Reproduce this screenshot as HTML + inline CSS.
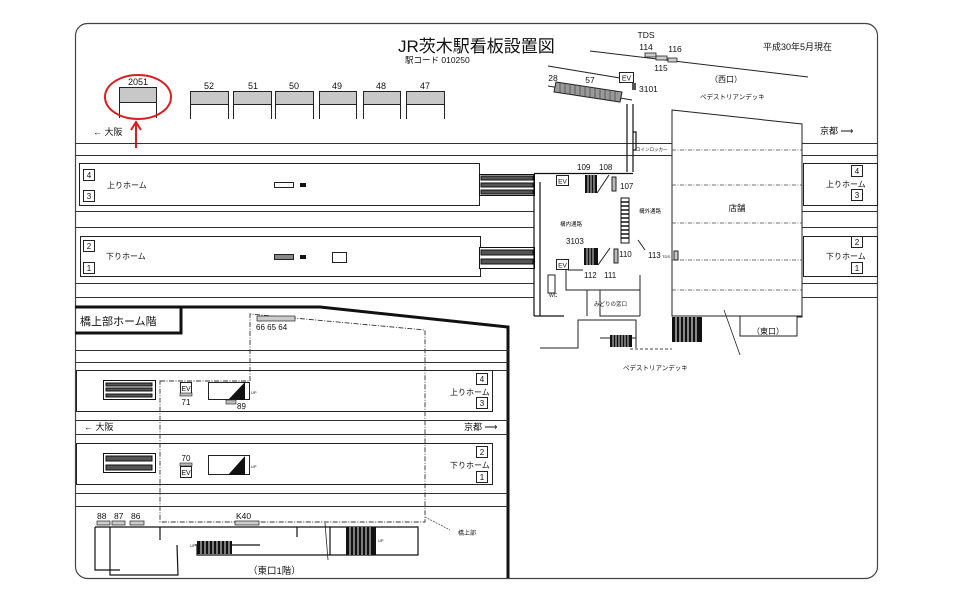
<!DOCTYPE html>
<html><head><meta charset="utf-8"><style>
html,body{margin:0;padding:0;background:#fff;}
svg{display:block;}
text{font-family:"Liberation Sans","Noto Sans CJK JP",sans-serif;fill:#111;}
</style></head><body>
<svg width="960" height="605" viewBox="0 0 960 605" xmlns="http://www.w3.org/2000/svg">
<rect x="0" y="0" width="960" height="605" fill="#fff"/>
<rect x="75.5" y="23.5" width="802" height="555" rx="12" fill="none" stroke="#444" stroke-width="1.2"/>

<!-- title -->
<text x="398" y="52" font-size="17">JR茨木駅看板設置図</text>
<text x="405" y="63" font-size="8.5">駅コード 010250</text>
<text x="763" y="50" font-size="9">平成30年5月現在</text>

<!-- top signs -->
<g stroke="#222" stroke-width="1" fill="#c8c8c8">
<rect x="119.5" y="87.5" width="37" height="15"/>
<rect x="190.5" y="91.5" width="38" height="13"/>
<rect x="233.5" y="91.5" width="38" height="13"/>
<rect x="275.5" y="91.5" width="38" height="13"/>
<rect x="319.5" y="91.5" width="37" height="13"/>
<rect x="363.5" y="91.5" width="37" height="13"/>
<rect x="406.5" y="91.5" width="38" height="13"/>
</g>
<g stroke="#222" stroke-width="1">
<path d="M119.5 102v16M156.5 102v16M190.5 104v15M228.5 104v15M233.5 104v15M271.5 104v15M275.5 104v15M313.5 104v15M319.5 104v15M356.5 104v15M363.5 104v15M400.5 104v15M406.5 104v15M444.5 104v15"/>
</g>
<g font-size="9" text-anchor="middle">
<text x="138" y="85">2051</text><text x="209" y="89">52</text><text x="253" y="89">51</text><text x="294" y="89">50</text><text x="337" y="89">49</text><text x="381" y="89">48</text><text x="425" y="89">47</text>
</g>
<ellipse cx="138" cy="97" rx="33" ry="22" fill="none" stroke="#d62020" stroke-width="2"/>
<path d="M136 148V124" stroke="#d62020" stroke-width="2"/>
<path d="M131 130L136 122L141 130" fill="none" stroke="#d62020" stroke-width="2"/>
<text x="93" y="135" font-size="9">←  大阪</text>
<text x="820" y="134" font-size="9">京都 ⟶</text>

<!-- top rails -->
<g stroke="#333" stroke-width="1">
<path d="M76 143.5H672M802 143.5H878M76 155.5H672M802 155.5H878"/>
<path d="M76 211.5H534M802 211.5H878M76 227.5H534M802 227.5H878"/>
<path d="M76 283.5H534M802 283.5H878M76 297.5H534M802 297.5H878"/>
</g>
<!-- top platforms -->
<g fill="none" stroke="#222" stroke-width="1">
<rect x="79.5" y="163.5" width="400" height="42"/>
<rect x="80.5" y="236.5" width="400" height="40"/>
<rect x="803.5" y="163.5" width="74" height="42"/>
<rect x="803.5" y="236.5" width="74" height="40"/>
<rect x="83.5" y="169.5" width="11" height="11"/><rect x="83.5" y="190.5" width="11" height="11"/>
<rect x="83.5" y="240.5" width="11" height="11"/><rect x="83.5" y="262.5" width="11" height="11"/>
<rect x="851.5" y="165.5" width="11" height="11"/><rect x="851.5" y="189.5" width="11" height="11"/>
<rect x="851.5" y="236.5" width="11" height="11"/><rect x="851.5" y="262.5" width="11" height="11"/>
<rect x="274.5" y="182.5" width="19" height="5"/><rect x="274.5" y="254.5" width="19" height="5" fill="#888"/>
<rect x="332.5" y="252.5" width="14" height="10"/>
</g>
<rect x="300" y="183" width="6" height="4" fill="#111"/><rect x="300" y="255" width="6" height="4" fill="#111"/>
<g font-size="8" text-anchor="middle">
<text x="89" y="178">4</text><text x="89" y="199">3</text><text x="89" y="249">2</text><text x="89" y="271">1</text>
<text x="857" y="174">4</text><text x="857" y="198">3</text><text x="857" y="245">2</text><text x="857" y="271">1</text>
</g>
<text x="107" y="188" font-size="8">上りホーム</text>
<text x="106" y="259" font-size="8">下りホーム</text>
<text x="826" y="187" font-size="8">上りホーム</text>
<text x="826" y="259" font-size="8">下りホーム</text>

<!-- escalators top -->
<g stroke="#111" stroke-width="1">
<rect x="479.5" y="174.5" width="55" height="21" fill="#fff"/>
<rect x="481" y="176" width="52" height="4" fill="#555"/><rect x="481" y="183" width="52" height="4" fill="#555"/><rect x="481" y="190" width="52" height="4" fill="#555"/>
<rect x="479.5" y="247.5" width="55" height="21" fill="#fff"/>
<rect x="481" y="250" width="52" height="5" fill="#555"/><rect x="481" y="259" width="52" height="5" fill="#555"/>
</g>

<!-- west side -->
<path d="M590 51L808 77" stroke="#222" stroke-width="1"/>
<path d="M548 66L632 80" stroke="#222" stroke-width="1"/>
<path d="M548 86L632 100" stroke="#222" stroke-width="1"/>
<text x="646" y="38" font-size="8.5" text-anchor="middle">TDS</text>
<text x="646" y="50" font-size="8.5" text-anchor="middle">114</text>
<text x="675" y="52" font-size="8.5" text-anchor="middle">116</text>
<text x="661" y="71" font-size="8.5" text-anchor="middle">115</text>
<g fill="#ccc" stroke="#222" stroke-width="0.8"><rect x="645" y="53" width="11" height="4"/><rect x="656" y="56" width="11" height="4"/><rect x="668" y="58" width="9" height="4"/></g>
<path d="M556 82L622 92L620 102L554 92Z" fill="#999" stroke="#222" stroke-width="1"/>
<g stroke="#333" stroke-width="0.6"><path d="M560 83v10M565 84v10M570 85v10M575 85v10M580 86v10M585 87v10M590 88v10M595 88v10M600 89v10M605 90v10M610 91v10M615 91v10"/></g>
<text x="553" y="81" font-size="8.5" text-anchor="middle">28</text>
<text x="590" y="83" font-size="8.5" text-anchor="middle">57</text>
<rect x="619.5" y="72.5" width="14" height="10" fill="#fff" stroke="#222"/><text x="626.5" y="80.5" font-size="7" text-anchor="middle">EV</text>
<rect x="632" y="83" width="4" height="7" fill="#555"/>
<text x="639" y="92" font-size="8.5">3101</text>
<text x="710" y="82" font-size="8">（西口）</text>
<text x="700" y="99" font-size="6.5">ペデストリアンデッキ</text>

<!-- vertical passage -->
<g stroke="#111" stroke-width="1.2" fill="none">
<path d="M627 104V172M633 104V172M633 132h3v18h-3"/>
<path d="M534 173.5H633"/>
<path d="M534 174V316M540 182V316M534 316h30"/>
</g>
<text x="636" y="151" font-size="4.5">コインロッカー</text>
<!-- store -->
<path d="M672 110L802 124V316H672Z" fill="#fff" stroke="#222" stroke-width="1"/>
<g stroke="#444" stroke-width="0.8" stroke-dasharray="4 1.5 1 1.5"><path d="M672 150H802M672 185H802M672 223H802M672 260H802M672 290H802"/></g>
<text x="737" y="211" font-size="8.5" text-anchor="middle">店舗</text>
<path d="M802 316v1H797V336H740V316" fill="none" stroke="#222"/>
<text x="752" y="334" font-size="8">（東口）</text>
<path d="M724 310L740 355" stroke="#222" stroke-width="0.8"/>

<!-- concourse internals -->
<rect x="556.5" y="175.5" width="12" height="10" fill="#fff" stroke="#222"/><text x="562.5" y="183.5" font-size="6.5" text-anchor="middle">EV</text>
<text x="577" y="170" font-size="8">109</text><text x="599" y="170" font-size="8">108</text>
<text x="620" y="189" font-size="8">107</text>
<rect x="585" y="175" width="12" height="18" fill="#111"/>
<g stroke="#fff" stroke-width="0.8"><path d="M588 175v18M591 175v18M594 175v18"/></g>
<path d="M597 193L609 175" stroke="#222"/><rect x="612" y="177" width="4" height="14" fill="#bbb" stroke="#222"/>
<rect x="621" y="198" width="8" height="45" fill="#fff" stroke="#111"/>
<g stroke="#111" stroke-width="1.5"><path d="M621 202h8M621 206h8M621 210h8M621 214h8M621 218h8M621 222h8M621 226h8M621 230h8M621 234h8M621 238h8"/></g>
<text x="560" y="226" font-size="5.5">構内通路</text>
<text x="639" y="213" font-size="5.5">構外通路</text>
<text x="566" y="244" font-size="8">3103</text>
<rect x="556.5" y="259.5" width="12" height="10" fill="#fff" stroke="#222"/><text x="562.5" y="267.5" font-size="6.5" text-anchor="middle">EV</text>
<rect x="584" y="248" width="14" height="17" fill="#111"/>
<g stroke="#fff" stroke-width="0.8"><path d="M587 248v17M590 248v17M593 248v17"/></g>
<path d="M598 265L610 248" stroke="#222"/><rect x="614" y="249" width="4" height="14" fill="#bbb" stroke="#222"/>
<text x="619" y="257" font-size="8">110</text>
<text x="648" y="258" font-size="8">113</text><text x="662" y="258" font-size="4">TDS</text>
<rect x="674" y="251" width="4" height="9" fill="#ccc" stroke="#222"/>
<text x="584" y="278" font-size="8">112</text><text x="604" y="278" font-size="8">111</text>
<g stroke="#222" stroke-width="1" fill="none">
<path d="M566 270V290H587V316M587 290H640M600 290V316H640M640 275V316M645 250L638 240M568 270h15"/>
<rect x="548" y="275" width="7" height="18"/>
</g>
<text x="549" y="297" font-size="5">WC</text>
<text x="594" y="306" font-size="5.5">みどりの窓口</text>
<!-- bottom stairs near east -->
<rect x="672" y="317" width="30" height="25" fill="#111"/>
<g stroke="#fff" stroke-width="1"><path d="M676 317v25M680 317v25M684 317v25M688 317v25M692 317v25M696 317v25"/></g>
<path d="M540 348H578V320H636V348M600 338h36" fill="none" stroke="#222" stroke-width="1"/>
<rect x="610" y="335" width="22" height="12" fill="#111"/>
<g stroke="#fff" stroke-width="0.8"><path d="M613 335v12M616 335v12M619 335v12M622 335v12M625 335v12M628 335v12"/></g>
<path d="M630 349H672" stroke="#444" stroke-dasharray="3 2"/>
<text x="623" y="370" font-size="6.5">ペデストリアンデッキ</text>

<!-- lower section frame -->
<path d="M75 307H320L508 327V578" fill="none" stroke="#111" stroke-width="3"/>
<path d="M75 333H181V307" fill="none" stroke="#111" stroke-width="3"/>
<text x="80" y="325" font-size="11">橋上部ホーム階</text>
<g stroke="#333" stroke-width="1">
<path d="M76 350.5H508M76 362.5H508M76 370.5H508M76 420.5H508M76 434.5H508M76 493.5H508M76 506.5H508"/>
</g>
<g fill="none" stroke="#222" stroke-width="1">
<rect x="76.5" y="370.5" width="416" height="41"/>
<rect x="76.5" y="443.5" width="416" height="41"/>
<rect x="476.5" y="373.5" width="11" height="11"/><rect x="476.5" y="397.5" width="11" height="11"/>
<rect x="476.5" y="446.5" width="11" height="11"/><rect x="476.5" y="471.5" width="11" height="11"/>
</g>
<g font-size="8" text-anchor="middle">
<text x="482" y="382">4</text><text x="482" y="406">3</text><text x="482" y="455">2</text><text x="482" y="480">1</text>
</g>
<text x="450" y="395" font-size="8">上りホーム</text>
<text x="450" y="468" font-size="8">下りホーム</text>
<text x="84" y="430" font-size="9">←  大阪</text>
<text x="464" y="430" font-size="9">京都 ⟶</text>
<!-- dash-dot region -->
<path d="M160 381H250V314L425 330V522H160Z" fill="none" stroke="#333" stroke-width="0.9" stroke-dasharray="5 1.5 1 1.5"/>
<path d="M425 517L450 530" stroke="#444" stroke-width="0.7" stroke-dasharray="2 1"/>
<text x="458" y="535" font-size="6">橋上部</text>
<rect x="257" y="316" width="38" height="5" fill="#ccc" stroke="#222" stroke-width="0.7"/>
<text x="256" y="330" font-size="8">66 65 64</text>
<!-- lower escalators -->
<g stroke="#111" stroke-width="1">
<rect x="103.5" y="380.5" width="52" height="19" fill="#fff"/>
<rect x="106" y="383" width="46" height="3" fill="#555"/><rect x="106" y="388" width="46" height="3" fill="#555"/><rect x="106" y="394" width="46" height="3" fill="#555"/>
<rect x="103.5" y="453.5" width="52" height="19" fill="#fff"/>
<rect x="106" y="456" width="46" height="5" fill="#555"/><rect x="106" y="465" width="46" height="5" fill="#555"/>
</g>
<rect x="180.5" y="382.5" width="11" height="11" fill="#fff" stroke="#222"/><text x="186" y="391" font-size="7" text-anchor="middle">EV</text>
<rect x="180" y="393" width="12" height="3" fill="#bbb" stroke="#222" stroke-width="0.6"/>
<text x="186" y="405" font-size="8" text-anchor="middle">71</text>
<rect x="180.5" y="466.5" width="11" height="11" fill="#fff" stroke="#222"/><text x="186" y="475" font-size="7" text-anchor="middle">EV</text>
<rect x="180" y="463" width="12" height="3" fill="#bbb" stroke="#222" stroke-width="0.6"/>
<text x="186" y="461" font-size="8" text-anchor="middle">70</text>
<rect x="208.5" y="382.5" width="41" height="17" fill="#fff" stroke="#222"/>
<path d="M228 400L245 382V400Z" fill="#111"/>
<text x="251" y="394" font-size="4">UP</text>
<rect x="226" y="400" width="10" height="4" fill="#bbb" stroke="#222" stroke-width="0.6"/>
<text x="237" y="409" font-size="8">89</text>
<rect x="208.5" y="455.5" width="41" height="19" fill="#fff" stroke="#222"/>
<path d="M228 475L245 456V475Z" fill="#111"/>
<text x="251" y="468" font-size="4">UP</text>

<!-- bottom building -->
<g fill="#ccc" stroke="#222" stroke-width="0.7">
<rect x="97" y="521" width="13" height="4"/><rect x="112" y="521" width="13" height="4"/><rect x="130" y="521" width="14" height="4"/><rect x="235" y="521" width="24" height="4"/>
</g>
<g font-size="8.5">
<text x="97" y="519">88</text><text x="114" y="519">87</text><text x="131" y="519">86</text><text x="236" y="519">K40</text>
</g>
<g fill="none" stroke="#111" stroke-width="1.2">
<path d="M95 527H418V555H330M330 527V555H197V546M95 527V570H120M110 527V575H178L177 545M160 527V540"/>
<path d="M195 545H260M297 527V537"/>
</g>
<rect x="197" y="541" width="35" height="13" fill="#111"/>
<g stroke="#fff" stroke-width="0.9"><path d="M201 541v13M205 541v13M209 541v13M213 541v13M217 541v13M221 541v13M225 541v13M229 541v13"/></g>
<rect x="346" y="527" width="30" height="28" fill="#111"/>
<g stroke="#fff" stroke-width="0.9"><path d="M350 527v28M354 527v28M358 527v28M362 527v28M366 527v28M370 527v28"/></g>
<path d="M325 523L328 560" stroke="#222" stroke-width="0.8"/>
<text x="378" y="542" font-size="4">UP</text><text x="190" y="547" font-size="4">UP</text>
<text x="248" y="574" font-size="9.5">（東口1階）</text>
</svg>
</body></html>
